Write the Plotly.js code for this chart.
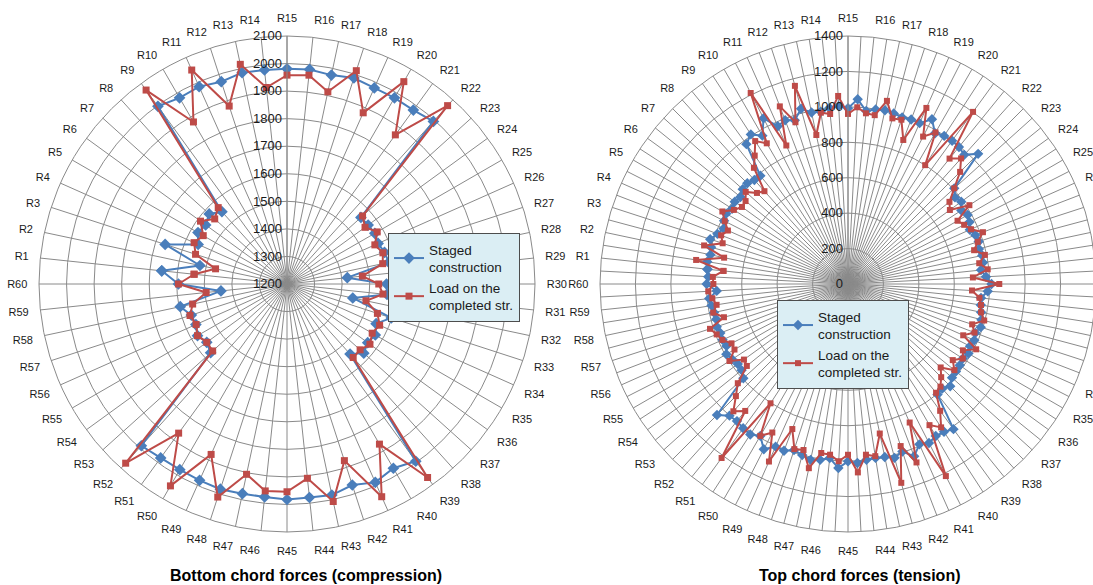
<!DOCTYPE html>
<html>
<head>
<meta charset="utf-8">
<script src="https://cdn.plot.ly/plotly-3.0.1.min.js"></script>
<style>
  html, body { margin: 0; padding: 0; background: #ffffff; overflow: hidden; }
  #chart { width: 1150px; height: 585px; }
</style>
</head>
<body>
<div id="chart"></div>
<script>
// ---------- DATA ----------
const ringLabels = ['R1','R2','R3','R4','R5','R6','R7','R8','R9','R10',
  'R11','R12','R13','R14','R15','R16','R17','R18','R19','R20',
  'R21','R22','R23','R24','R25','R26','R27','R28','R29','R30',
  'R31','R32','R33','R34','R35','R36','R37','R38','R39','R40',
  'R41','R42','R43','R44','R45','R46','R47','R48','R49','R50',
  'R51','R52','R53','R54','R55','R56','R57','R58','R59','R60'];

const seriesNames = ['Staged<br>construction', 'Load on the<br>completed str.'];
const chartTitles = ['Bottom chord forces (compression)', 'Top chord forces (tension)'];

// Bottom chord forces (compression), one value per R1..R60
const bottomStaged = [1657,1523,1665,1553,1573,1565,1580,1553,1997,1980,
  1984,1972,1984,1981,1981,1983,1975,1986,1979,1980,
  1980,1994,1561,1564,1568,1562,1572,1578,1420,1561,
  1565,1444,1598,1554,1570,1562,1575,1542,1995,1972,
  1988,1967,1983,1979,1982,1977,1978,1983,1980,1978,
  1980,1990,1573,1560,1575,1562,1565,1596,1441,1594];

const bottomCompleted = [1539,1465,1549,1569,1551,1588,1553,1573,2070,1879,
  2050,1879,2015,1917,1958,1962,1913,2014,1880,2048,
  1869,2071,1569,1550,1578,1549,1566,1555,1475,1533,
  1550,1493,1545,1568,1557,1572,1557,1559,2068,1871,
  2045,1874,2007,1909,1954,1955,1906,2013,1877,2046,
  1869,2075,1563,1560,1575,1561,1570,1550,1495,1594];

// Top chord forces (tension): two members per ring position
const memberSuffixes = ['-1', '-2'];
const topStaged = [798,805,794,800,818,790,769,785,794,780,
  790,781,800,804,790,786,976,1007,967,1050,
  975,990,972,1024,990,985,1000,1006,992,1044,
  982,998,1003,997,989,995,994,1044,983,997,
  1000,995,981,1039,807,777,790,763,780,770,
  753,770,776,765,775,772,755,780,810,790,
  755,759,768,780,788,770,780,773,785,773,
  780,784,790,816,795,803,1013,995,991,1007,
  991,1042,994,1016,998,994,998,1012,1001,1040,
  988,1005,1015,999,986,1008,1005,1047,990,1013,
  1007,996,1000,1046,795,773,769,780,793,770,
  775,772,779,770,773,780,788,742,798,790];

const topCompleted = [707,868,715,841,744,767,742,781,819,768,
  740,744,777,727,705,844,896,962,917,1210,
  856,1074,960,1158,860,979,965,1063,960,999,
  969,965,1057,968,975,871,1088,934,988,800,
  1201,911,954,895,807,737,711,817,714,736,
  760,816,770,737,790,750,793,706,854,701,
  746,760,768,796,737,765,712,812,749,773,
  731,773,704,744,780,790,885,965,920,1217,
  856,1079,962,1162,863,984,969,1065,964,1002,
  969,966,1063,970,980,877,1097,941,990,803,
  1214,922,967,895,837,735,726,798,740,738,
  776,794,819,725,778,751,770,790,760,764];

// ---------- BUILD ----------
const topMembers = [];
const topTickText = [];
ringLabels.forEach(l => {
  memberSuffixes.forEach((s, j) => {
    topMembers.push(l + s);
    topTickText.push(j === 0 ? l : '');
  });
});

const W = 1150, H = 585;
const FONT = 'Liberation Sans, Arial, sans-serif';
const GRID = '#8a8a8a';
const BLUE = '#4a7ebb';
const RED = '#be4b48';

function closed(arr) { return arr.concat([arr[0]]); }

function trace(sub, leg, name, cats, vals, color, symbol, msize, show) {
  return {
    type: 'scatterpolar', subplot: sub, legend: leg, name: name,
    theta: closed(cats), r: closed(vals),
    mode: 'lines+markers',
    line: { color: color, width: 2 },
    marker: { color: color, symbol: symbol, size: msize },
    showlegend: show, hoverinfo: 'skip', cliponaxis: false
  };
}

const data = [
  trace('polar', 'legend', seriesNames[0], ringLabels, bottomStaged, BLUE, 'diamond', 9, true),
  trace('polar', 'legend', seriesNames[1], ringLabels, bottomCompleted, RED, 'square', 7, true),
  trace('polar2', 'legend2', seriesNames[0], topMembers, topStaged, BLUE, 'diamond', 8, true),
  trace('polar2', 'legend2', seriesNames[1], topMembers, topCompleted, RED, 'square', 6, true)
];

function angular(cats, tickvals, ticktext) {
  const a = {
    type: 'category', categoryorder: 'array', categoryarray: cats,
    direction: 'clockwise', rotation: 174,
    showgrid: true, gridcolor: GRID, gridwidth: 1,
    showline: true, linecolor: GRID, linewidth: 1,
    ticks: 'outside', ticklen: 9, tickcolor: 'rgba(0,0,0,0)',
    tickfont: { family: FONT, size: 11, color: '#1a1a1a' }
  };
  if (tickvals) { a.tickmode = 'array'; a.tickvals = tickvals; a.ticktext = ticktext; }
  return a;
}

function radial(range, dtick) {
  return {
    range: range, tick0: range[0], dtick: dtick, angle: 90, side: 'counterclockwise',
    showgrid: true, gridcolor: GRID, gridwidth: 1,
    showline: true, linecolor: GRID, linewidth: 1,
    ticks: '', tickangle: 90,
    tickfont: { family: FONT, size: 13, color: '#1a1a1a' }
  };
}

const cy = 301; // center from bottom
const R = 248;
const legendStyle = {
  xanchor: 'left', yanchor: 'top',
  bgcolor: '#dbeef4', bordercolor: '#4d4d4d', borderwidth: 1,
  font: { family: FONT, size: 13.5, color: '#1a1a1a' },
  itemwidth: 30, tracegroupgap: 0
};
const layout = {
  width: W, height: H,
  margin: { l: 0, r: 0, t: 0, b: 0 },
  paper_bgcolor: '#ffffff',
  font: { family: FONT, color: '#1a1a1a' },
  polar: {
    domain: { x: [(287 - R) / W, (287 + R) / W], y: [(cy - R) / H, (cy + R) / H] },
    bgcolor: 'rgba(0,0,0,0)',
    angularaxis: angular(ringLabels),
    radialaxis: radial([1200, 2100], 100)
  },
  polar2: {
    domain: { x: [(848 - R) / W, (848 + R) / W], y: [(cy - R) / H, (cy + R) / H] },
    bgcolor: 'rgba(0,0,0,0)',
    angularaxis: angular(topMembers, topMembers, topTickText),
    radialaxis: radial([0, 1400], 200)
  },
  legend: Object.assign({ x: 388 / W, y: 1 - 233 / H }, legendStyle),
  legend2: Object.assign({ x: 777 / W, y: 1 - 300 / H }, legendStyle),
  annotations: [
    { text: '<b>' + chartTitles[0] + '</b>', xref: 'paper', yref: 'paper',
      x: 306 / W, y: 1 - 575 / H, xanchor: 'center', yanchor: 'middle', showarrow: false,
      font: { family: FONT, size: 16, color: '#000000' } },
    { text: '<b>' + chartTitles[1] + '</b>', xref: 'paper', yref: 'paper',
      x: 859 / W, y: 1 - 575 / H, xanchor: 'center', yanchor: 'middle', showarrow: false,
      font: { family: FONT, size: 16, color: '#000000' } }
  ]
};

Plotly.newPlot('chart', data, layout, { staticPlot: true, displayModeBar: false });
</script>
</body>
</html>
